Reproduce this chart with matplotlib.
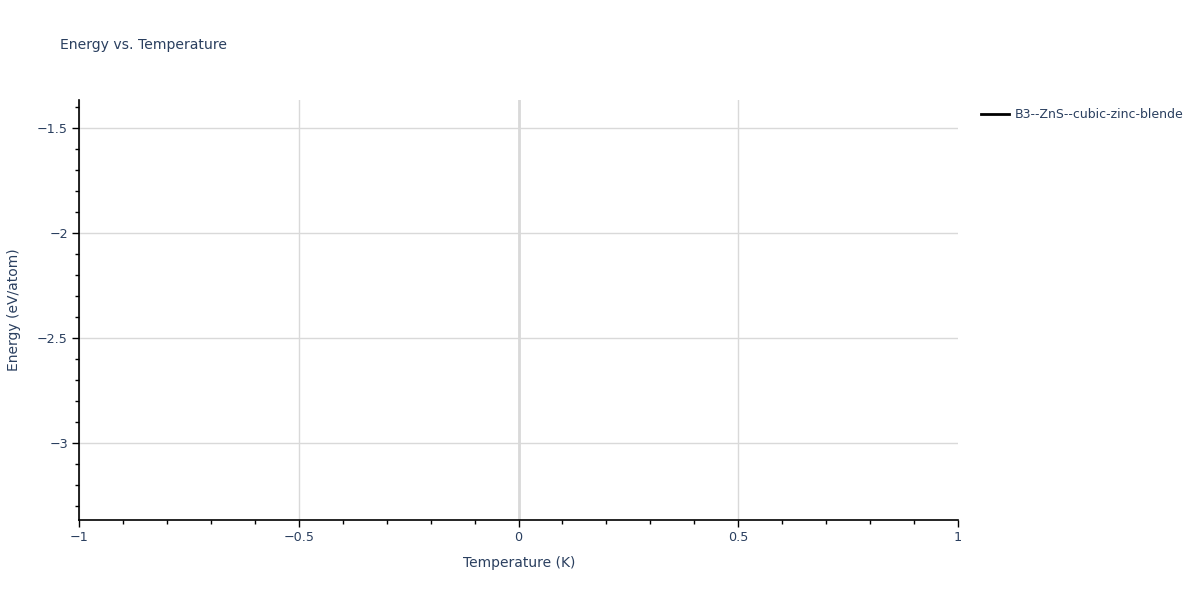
import numpy as np
import matplotlib.pyplot as plt
from matplotlib.ticker import MultipleLocator, FuncFormatter

# series data (the reference shows an empty trace)
temperature = []
energy = []
series_name = "B3--ZnS--cubic-zinc-blende"

x_ticks = [-1, -0.5, 0, 0.5, 1]
y_ticks = [-3, -2.5, -2, -1.5]

text_col = "#2a3f5f"
grid_col = "#d9d9d9"

plt.rcParams['font.family'] = ['DejaVu Sans']

fig = plt.figure(figsize=(12, 6), dpi=100)
ax = fig.add_axes([79 / 1200, 80 / 600, 879 / 1200, 420 / 600])

ax.plot(temperature, energy, color="black", linewidth=2, label=series_name)

ax.set_xlim(-1, 1)
ax.set_ylim(-3.367, -1.367)
ax.set_xticks(x_ticks)
ax.set_yticks(y_ticks)
ax.xaxis.set_minor_locator(MultipleLocator(0.1))
ax.yaxis.set_minor_locator(MultipleLocator(0.1))


def fmt(v, pos):
    return ("%g" % v).replace("-", "\u2212")


ax.xaxis.set_major_formatter(FuncFormatter(fmt))
ax.yaxis.set_major_formatter(FuncFormatter(fmt))

ax.grid(True, which="major", color=grid_col, linewidth=1)
ax.axvline(0, color=grid_col, linewidth=2, zorder=0.5)
ax.set_axisbelow(True)
# no gridline on the right edge
ax.get_xgridlines()[-1].set_visible(False)

for s in ["top", "right"]:
    ax.spines[s].set_visible(False)
for s in ["left", "bottom"]:
    ax.spines[s].set_color("black")
    ax.spines[s].set_linewidth(1.2)

ax.tick_params(which="major", direction="out", length=5, width=1, color="black",
               labelcolor=text_col, labelsize=9.2, pad=3)
ax.tick_params(which="minor", direction="out", length=3, width=1, color="black")

# axis titles placed like the reference
fig.text(519 / 1200, 1 - 563 / 600, "Temperature (K)", color=text_col,
         fontsize=10, ha="center", va="center")
fig.text(14 / 1200, 1 - 310 / 600, "Energy (eV/atom)", color=text_col,
         fontsize=10, ha="center", va="center", rotation=90)

fig.text(60 / 1200, 1 - 45 / 600, "Energy vs. Temperature", color=text_col,
         fontsize=10.1, va="center", ha="left")

leg = ax.legend(loc="upper left", bbox_to_anchor=(976 / 1200, 1 - 103 / 600),
                bbox_transform=fig.transFigure, frameon=False, fontsize=9,
                handlelength=2.2, handletextpad=0.5, borderaxespad=0)
for t in leg.get_texts():
    t.set_color(text_col)

fig.savefig("out.png", dpi=100, facecolor="white")
